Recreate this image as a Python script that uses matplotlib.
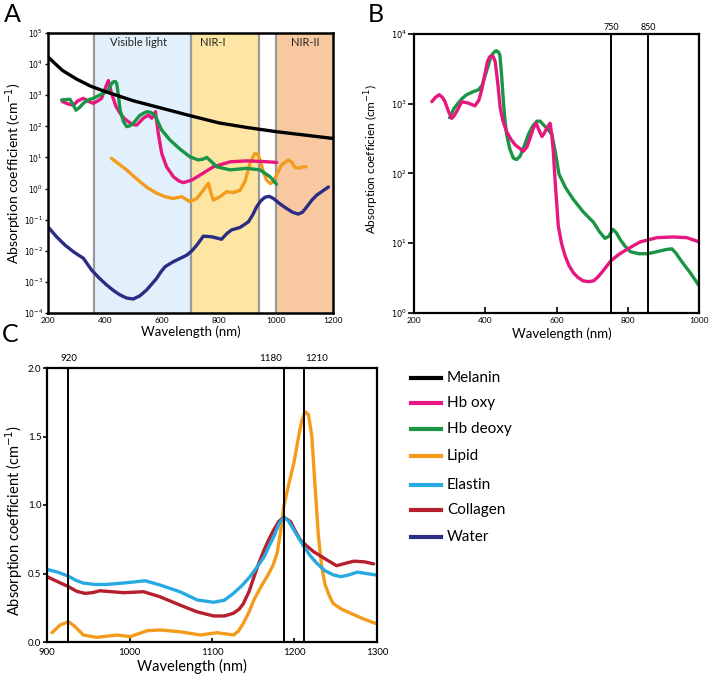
import numpy as np
import matplotlib
matplotlib.use('Agg')
import matplotlib.pyplot as plt
from matplotlib.lines import Line2D
from matplotlib.transforms import blended_transform_factory

plt.rcParams['font.family'] = ['Lato', 'DejaVu Sans']

# ---------------- Panel A data (log10 of absorption coefficient, cm^-1) -------------
melanin_wl = [200, 250, 300, 350, 400, 500, 600, 700, 800, 900, 1000, 1100, 1200]
melanin_log = [4.23, 3.80, 3.52, 3.29, 3.12, 2.82, 2.58, 2.34, 2.11, 1.96, 1.83, 1.72, 1.61]

hbo_a_wl = [250, 270, 289, 305, 324, 342, 359, 375, 388, 402, 412, 423, 438, 453, 468, 482,
            497, 511, 523, 534, 552, 564, 577, 587, 599, 616, 640, 660, 675, 704, 733, 780, 839,
            897, 955, 1002]
hbo_a_log = [2.80, 2.72, 2.68, 2.82, 2.90, 2.80, 2.74, 2.82, 2.90, 3.25, 3.47, 3.06, 2.65, 2.42,
             2.25, 2.15, 2.06, 2.04, 2.15, 2.26, 2.36, 2.26, 2.47, 1.77, 1.13, 0.70, 0.38, 0.24,
             0.19, 0.27, 0.43, 0.70, 0.86, 0.89, 0.87, 0.84]

hbd_a_wl = [248, 277, 288, 298, 310, 324, 340, 359, 394, 412, 422, 429, 436, 441, 447, 453,
            465, 476, 488, 499, 523, 546, 560, 575, 599, 628, 663, 698, 727, 745, 757, 775, 792,
            839, 897, 944, 979, 1002]
hbd_a_log = [2.85, 2.87, 2.70, 2.52, 2.60, 2.74, 2.85, 2.90, 3.06, 3.17, 3.35, 3.43, 3.44, 3.38,
             3.00, 2.52, 2.15, 1.99, 2.02, 2.10, 2.36, 2.47, 2.45, 2.36, 1.88, 1.56, 1.27, 1.02,
             0.92, 0.95, 1.00, 0.85, 0.70, 0.60, 0.65, 0.60, 0.38, 0.14]

lipid_a_wl = [423, 450, 476, 500, 523, 550, 581, 610, 640, 669, 698, 722, 745, 763, 774, 780,
              804, 827, 850, 874, 891, 910, 926, 936, 944, 955, 967, 980, 991, 1005, 1020, 1043,
              1055, 1067, 1080, 1096, 1105]
lipid_a_log = [0.97, 0.78, 0.60, 0.40, 0.22, 0.02, -0.15, -0.26, -0.32, -0.26, -0.42, -0.32,
               -0.05, 0.17, -0.21, -0.37, -0.26, -0.10, -0.13, -0.05, 0.22, 0.85, 1.13, 1.10,
               0.92, 0.55, 0.27, 0.16, 0.22, 0.50, 0.76, 0.92, 0.85, 0.68, 0.66, 0.70, 0.70]

water_wl = [200, 230, 260, 292, 324, 353, 380, 406, 430, 453, 476, 499, 522, 546, 564, 581,
            596, 611, 640, 687, 705, 722, 745, 774, 809, 827, 844, 874, 903, 918, 932, 946, 961,
            976, 991, 1015, 1037, 1058, 1078, 1093, 1108, 1125, 1143, 1165, 1184]
water_log = [-1.23, -1.55, -1.82, -2.05, -2.24, -2.62, -2.88, -3.10, -3.28, -3.42, -3.52, -3.55,
             -3.45, -3.26, -3.07, -2.89, -2.68, -2.51, -2.35, -2.14, -2.00, -1.82, -1.53, -1.55,
             -1.63, -1.45, -1.33, -1.25, -1.07, -0.85, -0.59, -0.40, -0.28, -0.25, -0.32, -0.50,
             -0.64, -0.76, -0.82, -0.76, -0.59, -0.38, -0.21, -0.07, 0.05]

band_edges = [360, 700, 940, 1000, 1200]
band_names = ['Visible light', 'NIR-I', 'NIR-II']

# ---------------- Panel B data (log10) ----------------
hbo_b_wl = [250, 260, 271, 280, 287, 296, 306, 313, 320, 334, 352, 371, 382, 390, 398, 406, 412,
            418, 423, 428, 435, 442, 450, 460, 472, 484, 507, 517, 526, 535, 543, 551, 559, 566,
            573, 582, 587, 591, 596, 605, 614, 624, 635, 647, 660, 675, 690, 704, 715, 727, 753,
            775, 797, 835, 882, 928, 966, 1000]
hbo_b_log = [3.03, 3.09, 3.13, 3.09, 3.03, 2.90, 2.79, 2.83, 2.89, 3.03, 3.01, 2.97, 3.05, 3.20,
             3.40, 3.60, 3.67, 3.69, 3.67, 3.60, 3.30, 2.94, 2.75, 2.60, 2.49, 2.41, 2.32, 2.38,
             2.51, 2.65, 2.72, 2.62, 2.53, 2.58, 2.65, 2.72, 2.55, 2.32, 1.90, 1.25, 1.00, 0.82,
             0.68, 0.58, 0.51, 0.46, 0.45, 0.46, 0.51, 0.58, 0.75, 0.84, 0.91, 1.02, 1.08, 1.09,
             1.08, 1.02]

hbd_b_wl = [300, 312, 324, 336, 348, 365, 381, 392, 400, 407, 413, 420, 427, 432, 437, 441, 446,
            451, 455, 460, 469, 479, 488, 498, 510, 521, 533, 545, 554, 563, 575, 587, 597, 607,
            625, 647, 675, 704, 720, 736, 747, 758, 768, 778, 792, 807, 830, 854, 875, 891, 908,
            924, 935, 947, 960, 975, 999]
hbd_b_log = [2.80, 2.93, 3.01, 3.08, 3.13, 3.17, 3.20, 3.27, 3.41, 3.52, 3.63, 3.71, 3.75, 3.76,
             3.74, 3.70, 3.40, 3.03, 2.78, 2.56, 2.35, 2.22, 2.20, 2.25, 2.40, 2.56, 2.68, 2.75,
             2.75, 2.70, 2.64, 2.56, 2.30, 1.99, 1.80, 1.63, 1.45, 1.30, 1.17, 1.07, 1.10, 1.20,
             1.15, 1.06, 0.96, 0.88, 0.85, 0.85, 0.87, 0.89, 0.91, 0.92, 0.86, 0.77, 0.68, 0.58,
             0.40]

b_markers = [753, 857]
b_marker_labels = ['750', '850']

# ---------------- Panel C data (linear, cm^-1) ----------------
elastin_wl = [900, 913, 926, 935, 944, 958, 972, 997, 1019, 1037, 1061, 1082, 1102, 1115, 1126,
              1136, 1146, 1155, 1163, 1170, 1175, 1181, 1187, 1192, 1197, 1204, 1211, 1219, 1227,
              1237, 1247, 1256, 1266, 1276, 1287, 1298]
elastin_v = [0.53, 0.51, 0.48, 0.45, 0.43, 0.42, 0.42, 0.433, 0.447, 0.416, 0.367, 0.307, 0.29,
             0.305, 0.355, 0.41, 0.477, 0.55, 0.62, 0.71, 0.77, 0.86, 0.91, 0.89, 0.84, 0.77, 0.70,
             0.63, 0.575, 0.52, 0.49, 0.477, 0.49, 0.51, 0.50, 0.49]

collagen_wl = [900, 913, 926, 936, 946, 955, 964, 993, 1017, 1037, 1061, 1082, 1102, 1115, 1126,
               1133, 1138, 1145, 1151, 1157, 1163, 1169, 1175, 1181, 1187, 1195, 1201, 1207, 1215,
               1223, 1239, 1251, 1262, 1272, 1285, 1296]
collagen_v = [0.477, 0.44, 0.404, 0.37, 0.355, 0.36, 0.374, 0.36, 0.367, 0.33, 0.27, 0.22, 0.19,
              0.19, 0.21, 0.24, 0.28, 0.37, 0.477, 0.58, 0.67, 0.75, 0.82, 0.88, 0.91, 0.88, 0.81,
              0.745, 0.70, 0.66, 0.60, 0.557, 0.575, 0.59, 0.585, 0.57]

lipid_c_wl = [906, 916, 926, 934, 944, 960, 985, 1001, 1021, 1037, 1061, 1086, 1106, 1126, 1132,
              1138, 1145, 1151, 1160, 1167, 1174, 1179, 1183, 1187, 1193, 1199, 1205, 1209, 1213,
              1217, 1221, 1225, 1229, 1233, 1237, 1242, 1247, 1257, 1268, 1283, 1298]
lipid_c_v = [0.068, 0.124, 0.148, 0.112, 0.051, 0.034, 0.051, 0.039, 0.082, 0.088, 0.075, 0.051,
             0.068, 0.051, 0.08, 0.136, 0.22, 0.31, 0.41, 0.48, 0.56, 0.65, 0.80, 0.99, 1.15, 1.30,
             1.50, 1.62, 1.68, 1.66, 1.50, 1.13, 0.77, 0.55, 0.42, 0.34, 0.28, 0.24, 0.21, 0.17,
             0.136]

c_markers = [926, 1187, 1211]
c_marker_labels = ['920', '1180', '1210']

legend_labels = ['Melanin', 'Hb oxy', 'Hb deoxy', 'Lipid', 'Elastin', 'Collagen', 'Water']

# ---------------- styling ----------------
COL = {
    'Melanin': '#000000', 'Hb oxy': '#e6177f', 'Hb deoxy': '#1a9545', 'Lipid': '#f49b1c',
    'Elastin': '#27a9e1', 'Collagen': '#b61f2c', 'Water': '#2b2d84',
}
BAND_COL = ['#e2f0fb', '#fde6a4', '#f8c8a0']
LW = 2.4

W, H = 709, 680
fig = plt.figure(figsize=(W / 100, H / 100), dpi=100)


def px_axes(l, t, r, b):
    return fig.add_axes([l / W, 1 - b / H, (r - l) / W, (b - t) / H])


def frame(ax, lw=1.6):
    for s in ax.spines.values():
        s.set_linewidth(lw)
        s.set_color('black')


def plot_log(ax, wl, lg, name):
    ax.plot(wl, 10.0 ** np.array(lg), color=COL[name], lw=LW,
            solid_joinstyle='round', solid_capstyle='round')


def plot_lin(ax, wl, v, name):
    ax.plot(wl, v, color=COL[name], lw=LW, solid_joinstyle='round', solid_capstyle='round')


# ---------------- Panel A ----------------
axA = px_axes(48, 33, 333, 313)
axA.set_yscale('log')
axA.set_xlim(200, 1200)
axA.set_ylim(1e-4, 1e5)
axA.axvspan(band_edges[0], band_edges[1], color=BAND_COL[0], lw=0, zorder=0)
axA.axvspan(band_edges[1], band_edges[2], color=BAND_COL[1], lw=0, zorder=0)
axA.axvspan(band_edges[3], band_edges[4], color=BAND_COL[2], lw=0, zorder=0)
for e in band_edges[:4]:
    axA.axvline(e, color='#9a9a9a', lw=1.6, zorder=1)
trA = blended_transform_factory(axA.transData, axA.transAxes)
band_label_x = [516, 779, 1102]
for x, t in zip(band_label_x, band_names):
    axA.text(x, 0.965, t, transform=trA, ha='center', va='center', fontsize=8, color='#222222')
plot_log(axA, water_wl, water_log, 'Water')
plot_log(axA, lipid_a_wl, lipid_a_log, 'Lipid')
plot_log(axA, hbo_a_wl, hbo_a_log, 'Hb oxy')
plot_log(axA, hbd_a_wl, hbd_a_log, 'Hb deoxy')
plot_log(axA, melanin_wl, melanin_log, 'Melanin')
axA.set_xticks([200, 400, 600, 800, 1000, 1200])
axA.set_xticklabels(['200', '400', '600', '800', '1000', '1200'])
axA.tick_params(axis='x', length=0, pad=3, labelsize=6)
axA.set_yticks([10.0 ** k for k in range(-4, 6)])
axA.set_yticklabels([f'$10^{{{k}}}$' for k in range(-4, 6)])
axA.yaxis.set_minor_locator(matplotlib.ticker.NullLocator())
axA.tick_params(axis='y', direction='out', length=2.5, width=1, pad=1, labelsize=5.5)
axA.set_ylabel('Absorption coefficient (cm$^{-1}$)', fontsize=10)
axA.yaxis.set_label_coords(-0.085, 0.5)
axA.set_xlabel('Wavelength (nm)', fontsize=9.5)
axA.xaxis.set_label_coords(0.5, -0.045)
frame(axA, 1.8)

# ---------------- Panel B ----------------
axB = px_axes(414, 34, 699, 313)
axB.set_yscale('log')
axB.set_xlim(200, 1000)
axB.set_ylim(1e0, 1e4)
plot_log(axB, hbd_b_wl, hbd_b_log, 'Hb deoxy')
plot_log(axB, hbo_b_wl, hbo_b_log, 'Hb oxy')
trB = blended_transform_factory(axB.transData, axB.transAxes)
for x, t in zip(b_markers, b_marker_labels):
    axB.axvline(x, color='black', lw=1.4)
    axB.text(x, 1.025, t, transform=trB, ha='center', va='center', fontsize=6.5)
axB.set_xticks([200, 400, 600, 800, 1000])
axB.set_xticklabels(['200', '400', '600', '800', '1000'])
axB.tick_params(axis='x', direction='in', length=4, width=1.2, pad=3, labelsize=6)
axB.set_yticks([10.0 ** k for k in range(0, 5)])
axB.set_yticklabels([f'$10^{{{k}}}$' for k in range(0, 5)])
axB.yaxis.set_minor_locator(matplotlib.ticker.NullLocator())
axB.tick_params(axis='y', direction='out', length=4, width=1.2, pad=1, labelsize=6)
axB.set_ylabel('Absorption coefficien (cm$^{-1}$)', fontsize=8.5)
axB.yaxis.set_label_coords(-0.115, 0.55)
axB.set_xlabel('Wavelength (nm)', fontsize=9.5)
axB.xaxis.set_label_coords(0.52, -0.052)
frame(axB, 1.6)

# ---------------- Panel C ----------------
axC = px_axes(47, 368, 377, 642)
axC.set_xlim(900, 1300)
axC.set_ylim(0, 2.0)
plot_lin(axC, lipid_c_wl, lipid_c_v, 'Lipid')
plot_lin(axC, collagen_wl, collagen_v, 'Collagen')
plot_lin(axC, elastin_wl, elastin_v, 'Elastin')
trC = blended_transform_factory(axC.transData, axC.transAxes)
c_ha = ['center', 'right', 'left']
for x, t, ha in zip(c_markers, c_marker_labels, c_ha):
    axC.axvline(x, color='black', lw=1.4)
    dx = {'center': 0, 'right': -2, 'left': 2}[ha]
    axC.text(x + dx, 1.036, t, transform=trC, ha=ha, va='center', fontsize=7)
axC.set_xticks([900, 1000, 1100, 1200, 1300])
axC.set_xticklabels(['900', '1000', '1100', '1200', '1300'])
axC.tick_params(axis='x', direction='in', length=3, width=1.2, pad=4, labelsize=7)
axC.set_yticks([0, 0.5, 1.0, 1.5, 2.0])
axC.set_yticklabels(['0.0', '0.5', '1.0', '1.5', '2.0'])
axC.tick_params(axis='y', direction='out', length=3, width=1.2, pad=1, labelsize=7)
axC.set_ylabel('Absorption coefficient (cm$^{-1}$)', fontsize=10.5)
axC.yaxis.set_label_coords(-0.066, 0.445)
axC.set_xlabel('Wavelength (nm)', fontsize=10.5)
axC.xaxis.set_label_coords(0.44, -0.06)
frame(axC, 1.6)

# ---------------- Legend (manual) ----------------
leg_rows = [378, 403, 429, 456, 485, 510, 537]
for y, name in zip(leg_rows, legend_labels):
    fig.add_artist(Line2D([411 / W, 441 / W], [1 - y / H, 1 - y / H], color=COL[name], lw=3,
                          transform=fig.transFigure))
    fig.text(447 / W, 1 - y / H, name, fontsize=11, ha='left', va='center')

# ---------------- Panel letters ----------------
fig.text(4 / W, 1 - 3 / H, 'A', fontsize=18, ha='left', va='top')
fig.text(368 / W, 1 - 3 / H, 'B', fontsize=18, ha='left', va='top')
fig.text(2 / W, 1 - 323 / H, 'C', fontsize=18, ha='left', va='top')

fig.savefig('out.png', dpi=100)
